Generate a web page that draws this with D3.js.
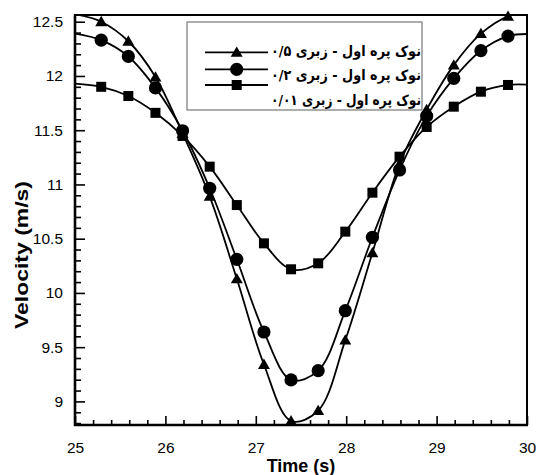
<!DOCTYPE html>
<html><head><meta charset="utf-8">
<script src="https://cdn.jsdelivr.net/npm/d3@7"></script>
<style>
html,body{margin:0;padding:0;background:#fff;}
svg{display:block;}
</style></head>
<body>
<svg id="chart" width="536" height="475"></svg>
<script>
// ---- data ----
const times = [25, 25.29, 25.59, 25.89, 26.19, 26.49, 26.79, 27.09, 27.39, 27.69, 27.99, 28.29, 28.59, 28.89, 29.19, 29.49, 29.79, 30];
const rough05 = [12.57, 12.50, 12.32, 11.99, 11.47, 10.89, 10.13, 9.34, 8.82, 8.915, 9.565, 10.37, 11.19, 11.69, 12.10, 12.39, 12.55, 12.58];
const rough02 = [12.39, 12.33, 12.18, 11.89, 11.495, 10.965, 10.31, 9.64, 9.198, 9.283, 9.836, 10.513, 11.133, 11.63, 11.978, 12.233, 12.368, 12.387];
const rough001 = [11.93, 11.90, 11.815, 11.66, 11.447, 11.164, 10.81, 10.457, 10.218, 10.273, 10.565, 10.924, 11.256, 11.53, 11.717, 11.855, 11.917, 11.92];
const legendLabels = ["نوک پره اول - زبری ۰/۵", "نوک پره اول - زبری ۰/۲", "نوک پره اول - زبری ۰/۰۱"];
const xTicks = [25, 26, 27, 28, 29, 30];
const yTicks = [9, 9.5, 10, 10.5, 11, 11.5, 12, 12.5];
const xTitle = "Time (s)";
const yTitle = "Velocity (m/s)";

const series = [
  {name: legendLabels[0], values: rough05, marker: "triangle"},
  {name: legendLabels[1], values: rough02, marker: "circle"},
  {name: legendLabels[2], values: rough001, marker: "square"}
];

// ---- layout ----
const L = 75, R = 527, T = 15, B = 425;
const svg = d3.select("#chart");
const x = d3.scaleLinear().domain([25, 30]).range([L, R]);
const y = d3.scaleLinear().domain([8.7825, 12.562]).range([B, T]);

svg.append("defs").append("clipPath").attr("id", "clip")
  .append("rect").attr("x", L).attr("y", T).attr("width", R - L).attr("height", B - T);

const font = "'Liberation Sans', Arial, sans-serif";

// minor ticks
const xMinor = d3.range(25, 30.001, 0.2).filter(v => Math.abs(v - Math.round(v)) > 1e-6);
const yMinor = d3.range(8.8, 12.56, 0.1).filter(v => Math.abs(v * 2 - Math.round(v * 2)) > 1e-6);

const xAxis = d3.axisBottom(x).tickValues(xTicks).tickSize(-9).tickPadding(17).tickFormat(d3.format("d"));
const gx = svg.append("g").attr("transform", `translate(0,${B})`).call(xAxis);
const gxm = svg.append("g").attr("transform", `translate(0,${B})`)
  .call(d3.axisBottom(x).tickValues(xMinor).tickSize(-5).tickFormat(""));

const yAxis = d3.axisLeft(y).tickValues(yTicks).tickSize(-10).tickPadding(12).tickFormat(d => d3.format("")(d));
const gy = svg.append("g").attr("transform", `translate(${L},0)`).call(yAxis);
const gym = svg.append("g").attr("transform", `translate(${L},0)`)
  .call(d3.axisLeft(y).tickValues(yMinor).tickSize(-6).tickFormat(""));

[gx, gxm, gy, gym].forEach(g => {
  g.select(".domain").remove();
  g.selectAll(".tick line").attr("stroke", "#000").attr("stroke-width", 1.6);
  g.selectAll(".tick text").attr("fill", "#000").attr("font-family", font).attr("font-size", 15.5);
});

// curves
const line = d3.line()
  .x((d, i) => x(times[i]))
  .y(d => y(d))
  .curve(d3.curveCatmullRom.alpha(0.5));

const plot = svg.append("g").attr("clip-path", "url(#clip)");
series.forEach(s => {
  plot.append("path").datum(s.values)
    .attr("d", line)
    .attr("fill", "none")
    .attr("stroke", "#000")
    .attr("stroke-width", 1.8);
});

function drawMarker(g, type, cx, cy) {
  if (type === "circle") {
    g.append("circle").attr("cx", cx).attr("cy", cy).attr("r", 6.6).attr("fill", "#000");
  } else if (type === "square") {
    g.append("rect").attr("x", cx - 5).attr("y", cy - 5).attr("width", 10).attr("height", 10).attr("fill", "#000");
  } else {
    g.append("path").attr("d", d3.symbol().type(d3.symbolTriangle).size(62)()).attr("transform", `translate(${cx},${cy + 1})`).attr("fill", "#000");
  }
}

const markersG = svg.append("g");
series.forEach(s => {
  s.values.forEach((v, i) => {
    if (i === 0 || i === times.length - 1) return;
    drawMarker(markersG, s.marker, x(times[i]), y(v));
  });
});

// frame
svg.append("rect").attr("x", L).attr("y", T).attr("width", R - L).attr("height", B - T)
  .attr("fill", "none").attr("stroke", "#000").attr("stroke-width", 2);
svg.append("line").attr("x1", L).attr("x2", L).attr("y1", T).attr("y2", B + 1).attr("stroke", "#000").attr("stroke-width", 2.6);
svg.append("line").attr("x1", L - 1).attr("x2", R + 1).attr("y1", B).attr("y2", B).attr("stroke", "#000").attr("stroke-width", 2.6);

// legend
const lg = svg.append("g");
lg.append("rect").attr("x", 187).attr("y", 22).attr("width", 235).attr("height", 88)
  .attr("fill", "#fff").attr("stroke", "#777").attr("stroke-width", 1.2);
const lineYs = [52.3, 69.3, 85];
const textYs = [55.5, 80, 105];
series.forEach((s, i) => {
  lg.append("line").attr("x1", 205).attr("x2", 268).attr("y1", lineYs[i]).attr("y2", lineYs[i])
    .attr("stroke", "#000").attr("stroke-width", 1.8);
  drawMarker(lg, s.marker, 236.7, lineYs[i]);
  lg.append("text").attr("x", 421).attr("y", textYs[i])
    .attr("text-anchor", "end")
    .attr("font-family", "'DejaVu Sans', sans-serif").attr("font-weight", "bold").attr("font-size", 14.5)
    .attr("textLength", 150).attr("lengthAdjust", "spacingAndGlyphs")
    .attr("fill", "#000")
    .text(s.name);
});

// axis titles
svg.append("text").attr("x", 301).attr("y", 472).attr("text-anchor", "middle")
  .attr("font-family", font).attr("font-weight", "bold").attr("font-size", 18).text(xTitle);
svg.append("text").attr("transform", "translate(28,255) rotate(-90)").attr("text-anchor", "middle")
  .attr("font-family", font).attr("font-weight", "bold").attr("font-size", 19)
  .attr("textLength", 148).attr("lengthAdjust", "spacingAndGlyphs").text(yTitle);
</script>
</body></html>
